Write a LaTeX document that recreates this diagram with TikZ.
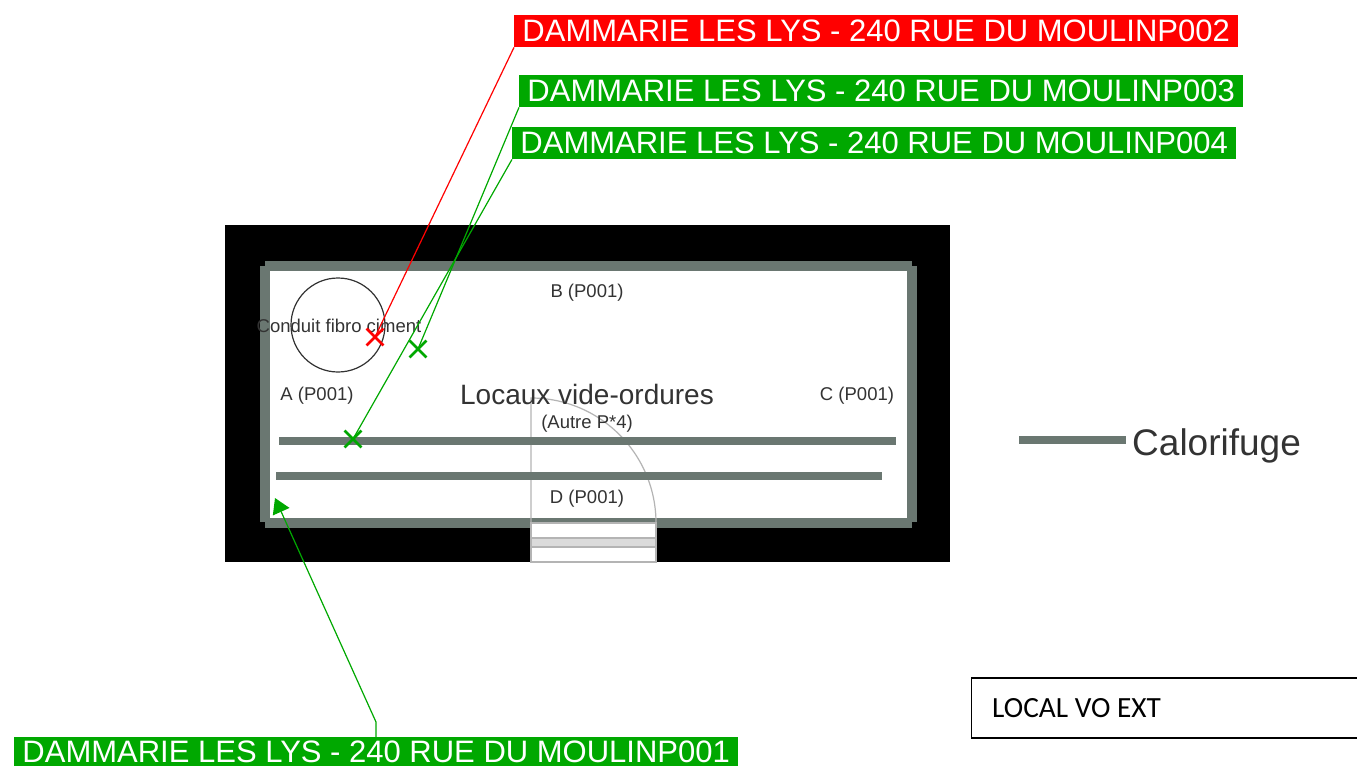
\documentclass[tikz,border=0pt]{standalone}
\usepackage{fontspec}
\setmainfont{Liberation Sans}
\newfontfamily\boxfont{Carlito}
\usepackage{xcolor}
\usetikzlibrary{positioning}
\usetikzlibrary{arrows.meta, shapes.misc, calc}
\definecolor{insulgrey}{HTML}{6A7771}
\definecolor{tagred}{HTML}{FF0000}
\definecolor{taggreen}{HTML}{00A800}
\definecolor{textgrey}{HTML}{333333}
\definecolor{doorgrey}{HTML}{B4B4B4}
\tikzset{
  tag/.style={anchor=north west, inner sep=0pt, minimum width=724pt, minimum height=32pt, text=white, font=\fontsize{31}{31}\selectfont},
  crossmark/.style={cross out, draw, line width=2.8pt, inner sep=0pt, minimum size=14pt},
  roomtext/.style={text=textgrey, inner sep=0pt, font=\fontsize{18.5}{18.5}\selectfont},
  insul/.style={insulgrey, line width=7.5pt},
  leader/.style={line width=1.2pt}
}
\begin{document}
\begin{tikzpicture}[x=1pt,y=-1pt]
        \useasboundingbox (0,0) rectangle (1357,766);
        % walls
        \fill[black] (225,225) rectangle (950,562);
        \fill[insulgrey] (260,266) rectangle (917,522);
        \fill[insulgrey] (265,261) rectangle (912,528);
        \fill[white] (270,271) rectangle (907,518);
        % door
        \fill[insulgrey] (531,518) rectangle (656,523);
        \draw[doorgrey, line width=1.2pt, fill=white] (531,523) rectangle (656,562);
        \draw[doorgrey, line width=1.2pt, fill=black!14] (531,538) rectangle (656,547);
        \draw[doorgrey, line width=1.2pt] (531,523) -- (531,398) arc (-90:0:125);
        % insulation
        \draw[insul] (279,441) -- (896,441);
        \draw[insul] (276,476) -- (882,476);
        \coordinate (legA) at (1019,440);
        \coordinate (legB) at (1126,440);
        \draw[insul] (legA) -- (legB);
        \node[anchor=base west, inner sep=0pt, text=textgrey, font=\fontsize{37}{37}\selectfont] (legend) at (1132,455.5) {Calorifuge};
        % room
        \node[circle, draw=textgrey, line width=1.2pt, minimum size=94pt, inner sep=0pt] (conduit) at (338,325) {};
        \node[roomtext] (conduitText) at (339,326) {Conduit fibro ciment};
        \node[roomtext] (wallA) at (317,395.5) {A (P001)};
        \node[roomtext] (wallB) at (587,292.5) {B (P001)};
        \node[roomtext] (wallC) at (857,395.5) {C (P001)};
        \node[roomtext] (wallD) at (587,498.5) {D (P001)};
        \node[text=textgrey, inner sep=0pt, font=\fontsize{28}{28}\selectfont] (room) at (587,394) {Locaux vide-ordures};
        \node[roomtext] (autre) at (587,423.5) {(Autre P*4)};
        % samples
        \node[crossmark, tagred] (crossB) at (375,337) {};
        \node[crossmark, taggreen] (crossC) at (418,349) {};
        \node[crossmark, taggreen] (crossD) at (353,439) {};
        \coordinate (tipA) at (275,498);
        \coordinate (kneeA) at (376,722);
        \node[tag, fill=tagred] (tagB) at (514,15) {DAMMARIE LES LYS - 240 RUE DU MOULINP002};
        \node[tag, fill=taggreen] (tagC) at (519,75) {DAMMARIE LES LYS - 240 RUE DU MOULINP003};
        \node[tag, fill=taggreen] (tagD) at (512,127) {DAMMARIE LES LYS - 240 RUE DU MOULINP004};
        \node[tag, fill=taggreen, minimum height=29pt] (tagA) at (14,737) {DAMMARIE LES LYS - 240 RUE DU MOULINP001};
        \draw[leader, tagred] (tagB.south west) -- (crossB.center);
        \draw[leader, taggreen] (tagC.south west) -- (crossC.center);
        \draw[leader, taggreen] (tagD.south west) -- (crossD.center);
        \draw[leader, taggreen, -{Triangle[length=15pt,width=18pt]}] (kneeA |- tagA.north) -- (kneeA) -- (tipA);
        % title box
        \node[draw=black, line width=1.3pt, anchor=west, minimum height=60pt, minimum width=392pt, inner sep=0pt] (titleBox) at (971,708) {};
        \node[anchor=west, inner sep=0pt, font=\boxfont\fontsize{29.3}{29.3}\selectfont] (title) at (992,708) {LOCAL VO EXT};
    \end{tikzpicture}
\end{document}
